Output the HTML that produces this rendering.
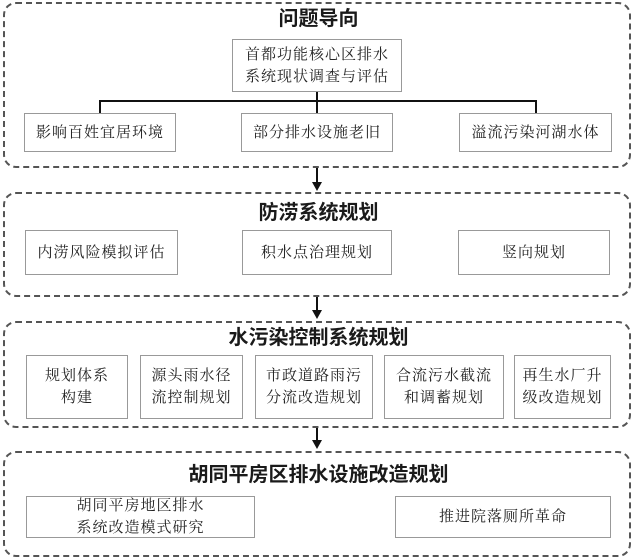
<!DOCTYPE html>
<html><head><meta charset="utf-8"><style>
body{margin:0;width:637px;height:558px;background:#fff;position:relative;overflow:hidden;font-family:"Liberation Serif","Noto Serif CJK SC",serif;color:#222}
.p{position:absolute;left:3px;width:628px;border:2px dashed #555;border-radius:13px;box-sizing:border-box}
.t{position:absolute;left:0;width:637px;text-align:center;font-family:"Liberation Sans","Noto Sans CJK SC",sans-serif;font-weight:bold;font-size:20px;line-height:24px;color:#1a1a1a}
.b{position:absolute;border:1.5px solid #999;box-sizing:border-box;display:flex;align-items:center;justify-content:center;text-align:center;font-size:15px;line-height:22px;letter-spacing:1px;background:#fff}
.l{position:absolute;background:#111}
</style></head><body>
<div class="p" style="top:2px;height:166px"></div>
<div class="t" style="top:7px">问题导向</div>
<div class="b" style="left:232px;top:39px;width:170px;height:53px">首都功能核心区排水<br>系统现状调查与评估</div>
<div class="l" style="left:316px;top:92px;width:2px;height:21px"></div>
<div class="l" style="left:99px;top:100px;width:438px;height:2px"></div>
<div class="l" style="left:99px;top:100px;width:2px;height:13px"></div>
<div class="l" style="left:535px;top:100px;width:2px;height:13px"></div>
<div class="b" style="left:24px;top:113px;width:152px;height:39px">影响百姓宜居环境</div>
<div class="b" style="left:241px;top:113px;width:152px;height:39px">部分排水设施老旧</div>
<div class="b" style="left:459px;top:113px;width:153px;height:39px">溢流污染河湖水体</div>

<div class="l" style="left:316px;top:168px;width:2px;height:16px"></div>
<svg style="position:absolute;left:312px;top:182px" width="10" height="10"><polygon points="0,0 10,0 5,9" fill="#111"/></svg>

<div class="p" style="top:192px;height:105px"></div>
<div class="t" style="top:201px">防涝系统规划</div>
<div class="b" style="left:25px;top:230px;width:153px;height:45px">内涝风险模拟评估</div>
<div class="b" style="left:242px;top:230px;width:150px;height:45px">积水点治理规划</div>
<div class="b" style="left:458px;top:230px;width:152px;height:45px">竖向规划</div>

<div class="l" style="left:316px;top:297px;width:2px;height:15px"></div>
<svg style="position:absolute;left:312px;top:310px" width="10" height="10"><polygon points="0,0 10,0 5,9" fill="#111"/></svg>

<div class="p" style="top:321px;height:107px"></div>
<div class="t" style="top:326px">水污染控制系统规划</div>
<div class="b" style="left:26px;top:355px;width:102px;height:64px">规划体系<br>构建</div>
<div class="b" style="left:140px;top:355px;width:103px;height:64px">源头雨水径<br>流控制规划</div>
<div class="b" style="left:255px;top:355px;width:118px;height:64px">市政道路雨污<br>分流改造规划</div>
<div class="b" style="left:384px;top:355px;width:120px;height:64px">合流污水截流<br>和调蓄规划</div>
<div class="b" style="left:514px;top:355px;width:97px;height:64px">再生水厂升<br>级改造规划</div>

<div class="l" style="left:316px;top:428px;width:2px;height:14px"></div>
<svg style="position:absolute;left:312px;top:440px" width="10" height="10"><polygon points="0,0 10,0 5,9" fill="#111"/></svg>

<div class="p" style="top:451px;height:106px"></div>
<div class="t" style="top:463px">胡同平房区排水设施改造规划</div>
<div class="b" style="left:26px;top:496px;width:229px;height:42px">胡同平房地区排水<br>系统改造模式研究</div>
<div class="b" style="left:395px;top:496px;width:216px;height:42px">推进院落厕所革命</div>
</body></html>
